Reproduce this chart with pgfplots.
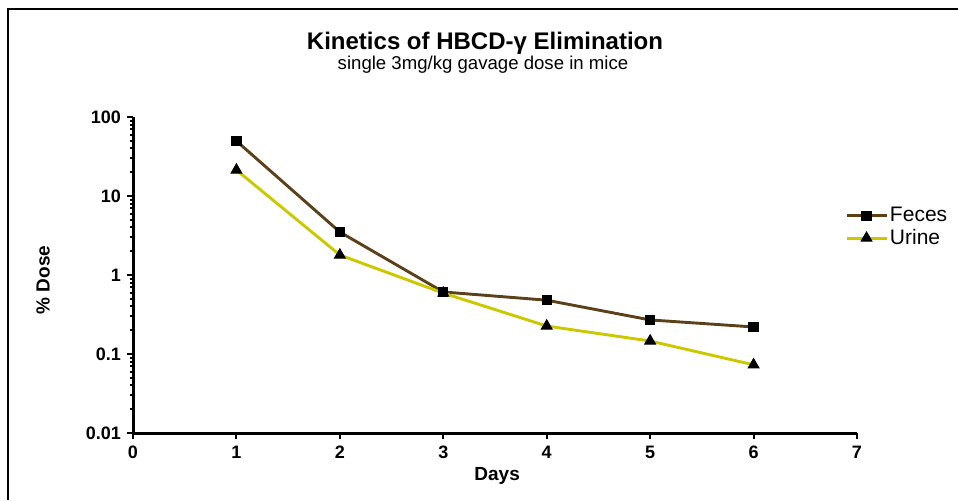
\documentclass[border=0pt]{standalone}
\usepackage{pgfplots}
\pgfplotsset{compat=1.18}
\usepackage{fontspec}
\setmainfont{Liberation Sans}

\definecolor{fecesbrown}{RGB}{92,64,24}
\definecolor{urineyellow}{RGB}{204,200,0}

\begin{document}
\begin{tikzpicture}
% page is 958x500 px at 0.5pt per px
\path[use as bounding box] (0,0) rectangle (479pt,250pt);
\draw[line width=1pt] (3.75pt,0) -- (3.75pt,245.75pt) -- (479pt,245.75pt);

\node[font=\bfseries\fontsize{12}{14}\selectfont] at (242.5pt,228.5pt) {Kinetics of HBCD-γ Elimination};
\node[font=\fontsize{9.3}{11}\selectfont] at (241.5pt,217.5pt) {single 3mg/kg gavage dose in mice};

\begin{axis}[
    at={(66.5pt,33.5pt)}, anchor=south west,
    scale only axis, width=362pt, height=158pt,
    ymode=log, ymin=0.01, ymax=100,
    xmin=0, xmax=7, xtick={0,1,...,7},
    log ticks with fixed point,
    axis x line*=bottom, axis y line*=left,
    axis line style={line width=1.5pt},
    tick align=outside,
    major tick length=3pt, minor tick length=1.5pt,
    every tick/.style={black, line width=1pt},
    tick label style={font=\bfseries\fontsize{9}{10}\selectfont},
    yticklabel style={xshift=0.5pt},
    /pgf/number format/assume math mode=true,
    xlabel={Days}, ylabel={\% Dose},
    label style={font=\bfseries\fontsize{9.5}{11}\selectfont},
    xlabel style={at={(axis description cs:0.503,-0.136)}, anchor=center},
    ylabel style={at={(axis description cs:-0.124,0.484)}, anchor=center},
    legend style={draw=none, fill=none, at={(axis description cs:0.983,0.724)}, anchor=north west,
        inner sep=0pt, row sep=0.25pt, font=\fontsize{10.5}{12}\selectfont,
        nodes={inner sep=1pt, text height=7.5pt, text depth=1.5pt}},
    legend cell align=left,
    legend image code/.code={
        \draw[#1, mark repeat=2, mark phase=2] plot coordinates {(0pt,0pt) (10pt,0pt) (20pt,0pt)};
    },
    clip=false,
]
\addplot[color=fecesbrown, line width=1.45pt, mark=square*, mark size=2.3pt,
    mark options={fill=black, draw=black, solid, line width=0.5pt}] coordinates {
(1,49.7)(2,3.5)(3,0.61)(4,0.48)(5,0.27)(6,0.22)
};
\addlegendentry{Feces}
\addplot[color=urineyellow, line width=1.45pt, mark=triangle*, mark size=3.1pt,
    mark options={fill=black, draw=black, solid, line width=0.5pt}] coordinates {
(1,21.3)(2,1.79)(3,0.59)(4,0.226)(5,0.146)(6,0.073)
};
\addlegendentry{Urine}
\end{axis}
\end{tikzpicture}
\end{document}
